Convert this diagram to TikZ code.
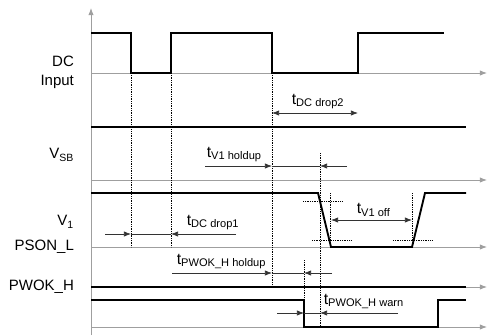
\documentclass[tikz,border=0pt]{standalone}
\usepackage{fontspec}
\setmainfont{Liberation Sans}
\usetikzlibrary{arrows.meta}

\begin{document}
\begin{tikzpicture}[x=0.03cm,y=-0.03cm,
        sig/.style = {line width=1.6pt, line join=miter},
        base/.style = {gray!75, line width=0.8pt,
            -{Latex[length=6pt,width=4.5pt]}},
        guide/.style = {densely dotted, line width=0.5pt},
        dimline/.style = {black!80, line width=0.6pt},
        dimtip/.style = {black!80, line width=0.6pt,
            -{Latex[length=6pt,width=4.5pt]}},
        dimboth/.style = {black!80, line width=0.6pt,
            {Latex[length=6pt,width=4.5pt]}-{Latex[length=6pt,width=4.5pt]}},
        signame/.style = {anchor=east, align=right,
            font=\fontsize{12.8}{16}\selectfont},
        dimname/.style = {anchor=south west, inner sep=0.5pt,
            font=\fontsize{13.5}{15}\selectfont},
    ]
        \useasboundingbox (0,0) rectangle (487,335);

        % Axis and baselines
        \draw[base] (91,335) -- (91,8);
        \foreach \y in {73,180,247,287,327}
            \draw[base] (91,\y) -- (487,\y);

        % Signal names
        \node[signame] (dcin) at (78,72) {DC\\Input};
        \node[signame] (vsb) at (78,155) {V\textsubscript{SB}};
        \node[signame] (vone) at (78,222) {V\textsubscript{1}};
        \node[signame] (pson) at (78,247) {PSON\_L};
        \node[signame] (pwok) at (78,287) {PWOK\_H};

        % Guide lines
        \draw[guide] (131,73) -- (131,247);
        \draw[guide] (171,73) -- (171,247);
        \draw[guide] (272,73) -- (272,287);
        \draw[guide] (320,153) -- (320,327);
        \draw[guide] (304,260) -- (304,300);
        \draw[guide] (330,193) -- (330,247);
        \draw[guide] (412,193) -- (412,240);
        \draw[guide] (303,201) -- (343,201);
        \draw[guide] (312,240) -- (351,240);
        \draw[guide] (393,240) -- (433,240);

        % Signals
        \draw[sig] (91,33) -- (131,33) -- (131,73) -- (171,73) -- (171,33)
            -- (272,33) -- (272,73) -- (358,73) -- (358,33) -- (444,33);
        \draw[sig] (91,127) -- (466,127);
        \draw[sig] (91,193) -- (318,193) -- (331,247) -- (412,247)
            -- (425,193) -- (466,193);
        \draw[sig] (91,287) -- (466,287);
        \draw[sig] (91,300) -- (304,300) -- (304,327) -- (438,327)
            -- (438,300) -- (466,300);

        % t DC drop2
        \coordinate (drop2a) at (272,113);
        \coordinate (drop2b) at (358,113);
        \draw[dimboth] (drop2a) -- (drop2b);
        \node[dimname] (drop2) at (291,110) {t\textsubscript{DC drop2}};

        % t V1 holdup
        \coordinate (holdL) at (205,166);
        \coordinate (holdA) at (272,166);
        \coordinate (holdB) at (320,166);
        \coordinate (holdR) at (347,166);
        \draw[dimline] (holdA) -- (holdB);
        \draw[dimtip] (holdL) -- (holdA);
        \draw[dimtip] (holdR) -- (holdB);
        \node[dimname] (hold) at (206,163) {t\textsubscript{V1 holdup}};

        % t DC drop1
        \coordinate (drop1L) at (105,234);
        \coordinate (drop1A) at (131,234);
        \coordinate (drop1B) at (171,234);
        \coordinate (drop1R) at (236,234);
        \draw[dimline] (drop1A) -- (drop1B);
        \draw[dimtip] (drop1L) -- (drop1A);
        \draw[dimtip] (drop1R) -- (drop1B);
        \node[dimname] (drop1) at (186,231) {t\textsubscript{DC drop1}};

        % t V1 off
        \coordinate (offA) at (331,220);
        \coordinate (offB) at (412,220);
        \draw[dimboth] (offA) -- (offB);
        \node[dimname] (off) at (356,217) {t\textsubscript{V1 off}};

        % t PWOK_H holdup
        \coordinate (pholdL) at (172,273);
        \coordinate (pholdA) at (272,273);
        \coordinate (pholdB) at (304,273);
        \coordinate (pholdR) at (332,273);
        \draw[dimline] (pholdA) -- (pholdB);
        \draw[dimtip] (pholdL) -- (pholdA);
        \draw[dimtip] (pholdR) -- (pholdB);
        \node[dimname] (phold) at (176,270) {t\textsubscript{PWOK\_H holdup}};

        % t PWOK_H warn
        \coordinate (warnL) at (277,313);
        \coordinate (warnA) at (304,313);
        \coordinate (warnB) at (320,313);
        \coordinate (warnR) at (398,313);
        \draw[dimline] (warnA) -- (warnB);
        \draw[dimtip] (warnL) -- (warnA);
        \draw[dimtip] (warnR) -- (warnB);
        \node[dimname] (warn) at (323,310) {t\textsubscript{PWOK\_H warn}};

    \end{tikzpicture}
\end{document}
